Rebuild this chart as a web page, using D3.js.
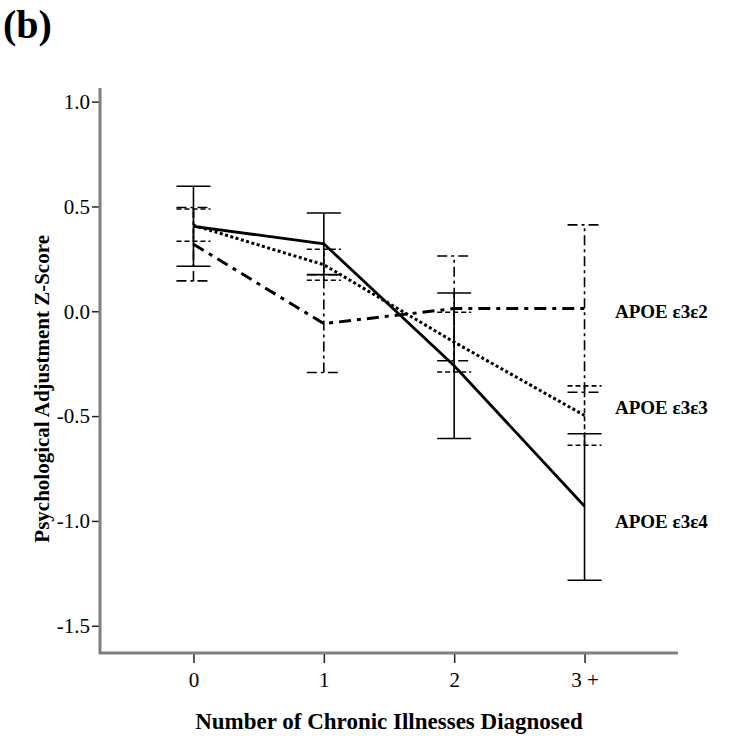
<!DOCTYPE html>
<html>
<head>
<meta charset="utf-8">
<script src="https://cdn.jsdelivr.net/npm/d3@7"></script>
<style>
  html, body { margin: 0; padding: 0; background: #fff; }
  svg { display: block; }
  text { font-family: "Liberation Serif", "Times New Roman", serif; fill: #000; }
</style>
</head>
<body>
<svg id="chart" width="736" height="736"></svg>
<script>
// Categories on the x axis
const categories = ["0", "1", "2", "3 +"];

// Group means and 95% CI bounds per APOE genotype
const seriesNames = ["APOE \u03b53\u03b52", "APOE \u03b53\u03b53", "APOE \u03b53\u03b54"];
const meanE3E2 = [0.32, -0.059, 0.013, 0.013];
const lowE3E2  = [0.145, -0.292, -0.236, -0.386];
const highE3E2 = [0.495, 0.174, 0.264, 0.412];

const meanE3E3 = [0.41, 0.222, -0.147, -0.497];
const lowE3E3  = [0.334, 0.148, -0.29, -0.639];
const highE3E3 = [0.488, 0.296, -0.005, -0.356];

const meanE3E4 = [0.405, 0.322, -0.26, -0.93];
const lowE3E4  = [0.215, 0.175, -0.607, -1.283];
const highE3E4 = [0.596, 0.469, 0.087, -0.584];

// Y axis ticks
const yTickValues = [-1.5, -1.0, -0.5, 0.0, 0.5, 1.0];
const yTickLabels = ["-1.5", "-1.0", "-0.5", "0.0", "0.5", "1.0"];

const panelLabel = "(b)";
const xTitle = "Number of Chronic Illnesses Diagnosed";
const yTitle = "Psychological Adjustment Z-Score";

// Series table built from the arrays above
const series = [
  { name: seriesNames[0], mean: meanE3E2, lo: lowE3E2, hi: highE3E2 },
  { name: seriesNames[1], mean: meanE3E3, lo: lowE3E3, hi: highE3E3 },
  { name: seriesNames[2], mean: meanE3E4, lo: lowE3E4, hi: highE3E4 }
];

// Line styles for each genotype (dash-dot, dotted, solid)
const styles = [
  { line: "12,6,4,6", bar: "10,4,3,4", width: 3, labelY: 318 },
  { line: "3,2.5",    bar: "5,3",      width: 3, labelY: 414 },
  { line: null,       bar: null,       width: 2.8, labelY: 528 }
];

const svg = d3.select("#chart");

const plot = { left: 100, right: 678, top: 88, bottom: 653 };

const x = d3.scalePoint()
  .domain(categories)
  .range([plot.left, plot.right])
  .padding(0.717);

const y = d3.scaleLinear()
  .domain([-1.63, 1.065])
  .range([plot.bottom, plot.top]);

// Axes
const axisColor = "#808080";

const yAxis = d3.axisLeft(y)
  .tickValues(yTickValues)
  .tickFormat((d, i) => yTickLabels[i])
  .tickSize(7)
  .tickPadding(2);

const gy = svg.append("g")
  .attr("transform", `translate(${plot.left - 1},0)`)
  .call(yAxis);
gy.select(".domain").remove();
gy.selectAll(".tick line").attr("stroke", "#222").attr("stroke-width", 1.5);
gy.selectAll(".tick text")
  .attr("font-size", 21)
  .attr("font-family", "Liberation Serif, serif")
  .attr("fill", "#111");

const xAxis = d3.axisBottom(x)
  .tickSize(10)
  .tickPadding(9);

const gx = svg.append("g")
  .attr("transform", `translate(0,${plot.bottom})`)
  .call(xAxis);
gx.select(".domain").remove();
gx.selectAll(".tick line").attr("stroke", "#222").attr("stroke-width", 1.5);
gx.selectAll(".tick text")
  .attr("font-size", 21)
  .attr("font-family", "Liberation Serif, serif")
  .attr("fill", "#111");

// Axis lines (left and bottom frame)
svg.append("path")
  .attr("d", `M${plot.left},${plot.top}V${plot.bottom}H${plot.right}`)
  .attr("fill", "none")
  .attr("stroke", axisColor)
  .attr("stroke-width", 3);

// Error bars
const capHalf = 17;
series.forEach((s, si) => {
  const st = styles[si];
  const g = svg.append("g").attr("class", "errbars");
  categories.forEach((c, i) => {
    const cx = x(c);
    g.append("line")
      .attr("x1", cx).attr("x2", cx)
      .attr("y1", y(s.lo[i])).attr("y2", y(s.hi[i]))
      .attr("stroke", "#000").attr("stroke-width", 1.6)
      .attr("stroke-dasharray", st.bar);
    [s.lo[i], s.hi[i]].forEach(v => {
      g.append("line")
        .attr("x1", cx - capHalf).attr("x2", cx + capHalf)
        .attr("y1", y(v)).attr("y2", y(v))
        .attr("stroke", "#000").attr("stroke-width", 1.6)
        .attr("stroke-dasharray", st.bar);
    });
  });
});

// Mean lines
const line = d3.line()
  .x((d, i) => x(categories[i]))
  .y(d => y(d));

series.forEach((s, si) => {
  const st = styles[si];
  svg.append("path")
    .datum(s.mean)
    .attr("d", line)
    .attr("fill", "none")
    .attr("stroke", "#000")
    .attr("stroke-width", st.width)
    .attr("stroke-dasharray", st.line);
});

// Series labels at the right
series.forEach((s, si) => {
  svg.append("text")
    .attr("x", 615)
    .attr("y", styles[si].labelY)
    .attr("font-size", 19)
    .attr("font-weight", "bold")
    .text(s.name);
});

// Titles
svg.append("text")
  .attr("x", 3)
  .attr("y", 38)
  .attr("font-size", 40)
  .attr("font-weight", "bold")
  .text(panelLabel);

svg.append("text")
  .attr("x", (plot.left + plot.right) / 2)
  .attr("y", 729)
  .attr("text-anchor", "middle")
  .attr("font-size", 23)
  .attr("font-weight", "bold")
  .text(xTitle);

svg.append("text")
  .attr("transform", `translate(49,${y(-0.37)}) rotate(-90)`)
  .attr("text-anchor", "middle")
  .attr("font-size", 21)
  .attr("font-weight", "bold")
  .text(yTitle);
</script>
</body>
</html>
